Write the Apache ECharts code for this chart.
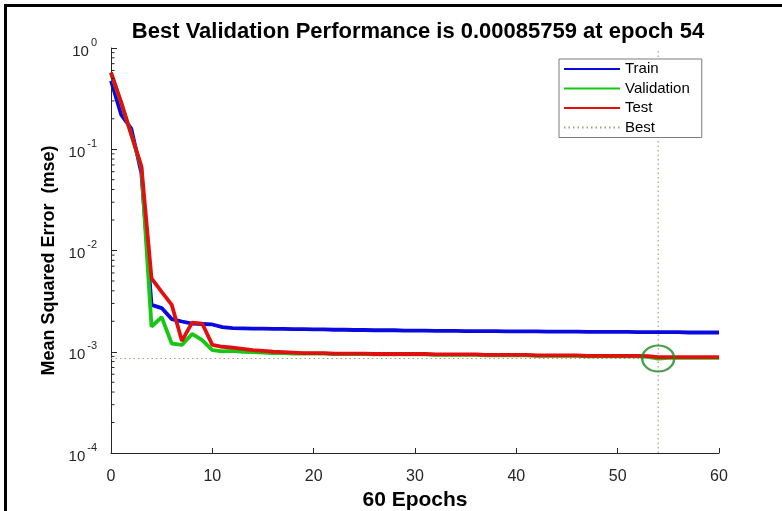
<!DOCTYPE html>
<html>
<head>
<meta charset="utf-8">
<script src="https://cdn.jsdelivr.net/npm/echarts@6/dist/echarts.min.js"></script>
<style>
html,body{margin:0;padding:0;background:#fff;}
#chart{width:782px;height:511px;}
</style>
</head>
<body>
<div id="chart"></div>
<script>
// ---- data ----
const epochs = [0,1,2,3,4,5,6,7,8,9,10,11,12,13,14,15,16,17,18,19,20,21,22,23,24,25,26,27,28,29,30,31,32,33,34,35,36,37,38,39,40,41,42,43,44,45,46,47,48,49,50,51,52,53,54,55,56,57,58,59,60];
const trainMSE = [0.475,0.22,0.16,0.058,0.0029,0.0027,0.0021,0.00199,0.0019,0.00188,0.00186,0.00175,0.00171,0.0017,0.00169,0.00169,0.00168,0.00168,0.00167,0.00167,0.00166,0.00166,0.00165,0.00165,0.00164,0.00164,0.00163,0.00163,0.00163,0.00162,0.00162,0.00162,0.00161,0.00161,0.00161,0.0016,0.0016,0.0016,0.0016,0.00159,0.00159,0.00159,0.00159,0.00158,0.00158,0.00158,0.00158,0.00157,0.00157,0.00157,0.00157,0.00157,0.00156,0.00156,0.00156,0.00156,0.00156,0.00155,0.00155,0.00155,0.00155];
const validationMSE = [0.56,0.29,0.14,0.066,0.00177,0.0022,0.0012,0.00117,0.0015,0.0013,0.00104,0.00101,0.00102,0.001,0.00099,0.00098,0.00097,0.00097,0.00096,0.00096,0.00096,0.00096,0.00095,0.00095,0.00095,0.00095,0.00094,0.00094,0.00094,0.00094,0.00094,0.00094,0.00093,0.00093,0.00093,0.00093,0.00093,0.00092,0.00092,0.00092,0.00092,0.00092,0.00091,0.00091,0.00091,0.00091,0.00091,0.0009,0.0009,0.0009,0.0009,0.0009,0.0009,0.00089,0.00085759,0.00087,0.00087,0.00087,0.00087,0.00087,0.00087];
const testMSE = [0.575,0.29,0.14,0.068,0.0053,0.0039,0.0029,0.00128,0.00194,0.0019,0.00117,0.00112,0.0011,0.00107,0.00104,0.00102,0.001,0.00099,0.00098,0.00097,0.00097,0.00097,0.00096,0.00096,0.00096,0.00096,0.00095,0.00095,0.00095,0.00095,0.00095,0.00095,0.00094,0.00094,0.00094,0.00094,0.00094,0.00093,0.00093,0.00093,0.00093,0.00093,0.00092,0.00092,0.00092,0.00092,0.00092,0.00091,0.00091,0.00091,0.00091,0.00091,0.00091,0.000905,0.000885,0.000885,0.000885,0.000885,0.000885,0.000885,0.000885];
const bestEpoch = 54;
const bestValue = 0.00085759;
const xTicks = [0,10,20,30,40,50,60];
const yTickExponents = [-4,-3,-2,-1,0];
const yMinorTicks = [0.0002,0.0003,0.0004,0.0005,0.0006,0.0007,0.0008,0.0009,
  0.002,0.003,0.004,0.005,0.006,0.007,0.008,0.009,
  0.02,0.03,0.04,0.05,0.06,0.07,0.08,0.09,
  0.2,0.3,0.4,0.5,0.6,0.7,0.8,0.9];

const FONT = '"Liberation Sans", Arial, Helvetica, sans-serif';
const AX = '#262626';

const pairs = arr => epochs.map((e, i) => [e, arr[i]]);

const chart = echarts.init(document.getElementById('chart'), null, {renderer: 'canvas'});
chart.setOption({
  animation: false,
  backgroundColor: '#fff',
  textStyle: {fontFamily: FONT},
  title: {
    text: 'Best Validation Performance is 0.00085759 at epoch 54',
    left: 413, top: 16, textAlign: 'center',
    textStyle: {fontFamily: FONT, fontWeight: 'bold', fontSize: 22, color: '#000'}
  },
  grid: {left: 111, right: 63, top: 48, bottom: 58, containLabel: false, outerBoundsMode: 'none'},
  legend: {
    data: ['Train', 'Validation', 'Test', 'Best'],
    orient: 'vertical', left: 559, top: 59,
    itemWidth: 56, itemHeight: 16, itemGap: 3.5,
    padding: [2, 12, 2, 4],
    backgroundColor: '#fff', borderColor: '#7a7a7a', borderWidth: 1, borderRadius: 0,
    itemStyle: {opacity: 0},
    textStyle: {fontFamily: FONT, fontSize: 15, color: '#000', lineHeight: 16},
    selectedMode: false
  },
  xAxis: {
    type: 'value', min: 0, max: 60, interval: 10,
    name: '60 Epochs', nameLocation: 'middle', nameGap: 33,
    nameTextStyle: {fontFamily: FONT, fontWeight: 'bold', fontSize: 21, color: '#000'},
    axisLine: {show: true, lineStyle: {color: AX, width: 1}},
    axisTick: {show: true, inside: true, length: 5, lineStyle: {color: AX}},
    axisLabel: {fontFamily: FONT, fontSize: 16, color: AX, margin: 16,
      formatter: v => xTicks.includes(v) ? String(v) : ''},
    splitLine: {show: false}
  },
  yAxis: {
    type: 'log', logBase: 10, min: 0.0001, max: 1,
    name: 'Mean Squared Error  (mse)', nameLocation: 'middle', nameGap: 47, nameRotate: 90,
    nameTextStyle: {fontFamily: FONT, fontWeight: 'bold', fontSize: 18, color: '#000', padding: [0, 20, 0, 0]},
    axisLine: {show: true, lineStyle: {color: AX, width: 1}},
    axisTick: {show: true, inside: true, length: 6, lineStyle: {color: AX}},
    axisLabel: {
      margin: 14,
      formatter: v => {
        const e = Math.round(Math.log10(v));
        return yTickExponents.includes(e) ? '{b|10}{s|' + e + '}' : '';
      },
      rich: {
        b: {fontFamily: FONT, fontSize: 15, color: AX, lineHeight: 22, verticalAlign: 'bottom'},
        s: {fontFamily: FONT, fontSize: 11, color: AX, lineHeight: 11, verticalAlign: 'top', padding: [0, 0, 0, 2]}
      }
    },
    splitLine: {show: false}
  },
  series: [
    {
      name: 'Best', type: 'line', symbol: 'none', silent: true, z: 1,
      lineStyle: {color: '#a89f7a', width: 1.2, type: [1.5, 3]},
      data: [[0, bestValue], [60, bestValue]]
    },
    {
      name: 'Best', type: 'line', symbol: 'none', silent: true, z: 1,
      lineStyle: {color: '#a89f7a', width: 1.2, type: [1.5, 3]},
      data: [[bestEpoch, 0.0001], [bestEpoch, 1]]
    },
    {
      name: 'Train', type: 'line', symbol: 'none', z: 2,
      lineStyle: {color: '#0a0adf', width: 3.8}, itemStyle: {color: '#0a0adf'},
      data: pairs(trainMSE)
    },
    {
      name: 'Validation', type: 'line', symbol: 'none', z: 3,
      lineStyle: {color: '#14c814', width: 3.8}, itemStyle: {color: '#14c814'},
      data: pairs(validationMSE)
    },
    {
      name: 'Test', type: 'line', symbol: 'none', z: 4,
      lineStyle: {color: '#e01010', width: 3.8}, itemStyle: {color: '#e01010'},
      data: pairs(testMSE)
    },
    {
      name: 'BestPoint', type: 'scatter', z: 5, silent: true,
      symbol: 'circle', symbolSize: [32, 26],
      itemStyle: {color: 'rgba(0,0,0,0)', borderColor: '#1a8a1a', borderWidth: 2.2},
      data: [[bestEpoch, bestValue]]
    },
    {
      name: 'minorTicks', type: 'custom', silent: true, z: 6,
      renderItem: (params, api) => {
        const p = api.coord([0, api.value(1)]);
        return {type: 'line', shape: {x1: p[0], y1: p[1], x2: p[0] + 3.5, y2: p[1]},
          style: {stroke: AX, lineWidth: 1}};
      },
      encode: {x: 0, y: 1},
      data: yMinorTicks.map(v => [0, v])
    }
  ],
  graphic: [
    {type: 'rect', shape: {x: 4, y: 4, width: 778, height: 3}, style: {fill: '#000'}, silent: true},
    {type: 'rect', shape: {x: 4, y: 4, width: 3, height: 507}, style: {fill: '#000'}, silent: true}
  ]
});
</script>
</body>
</html>
